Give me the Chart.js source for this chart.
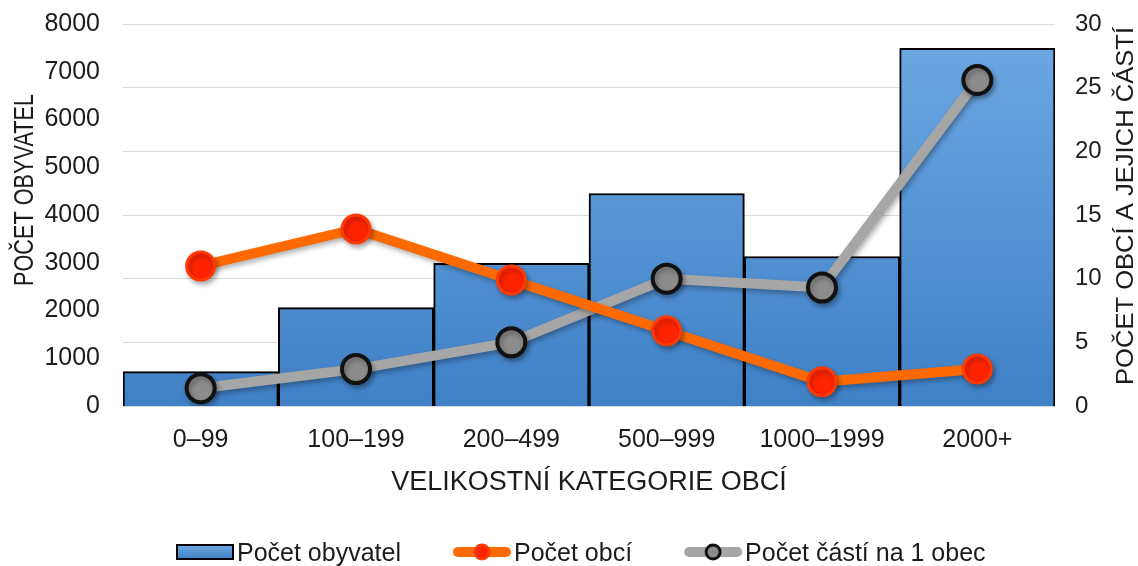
<!DOCTYPE html>
<html>
<head>
<meta charset="utf-8">
<script src="https://cdn.jsdelivr.net/npm/chart.js@4/dist/chart.umd.min.js"></script>
<style>
html,body{margin:0;padding:0;background:#fff;}
#wrap{width:1138px;height:566px;position:relative;}
</style>
</head>
<body>
<div id="wrap"><canvas id="c"></canvas></div>
<script>
const categories = ['0–99', '100–199', '200–499', '500–999', '1000–1999', '2000+'];
const pocetObyvatel = [720, 2060, 2990, 4450, 3130, 7490];
const pocetObci = [11, 13.9, 9.9, 5.9, 1.9, 2.9];
const pocetCasti = [1.4, 2.9, 5.0, 10.0, 9.3, 25.6];
const leftTicks = [0, 1000, 2000, 3000, 4000, 5000, 6000, 7000, 8000];
const rightTicks = [0, 5, 10, 15, 20, 25, 30];
const seriesNames = ['Počet obyvatel', 'Počet obcí', 'Počet částí na 1 obec'];
const xTitle = 'VELIKOSTNÍ KATEGORIE OBCÍ';
const yTitle = 'POČET OBYVATEL';
const y1Title = 'POČET OBCÍ A JEJICH ČÁSTÍ';

const FONT = '"Liberation Sans", Arial, sans-serif';
const TXT = '#1c1c1c';

function barGradient(ctx, top, bottom) {
  const g = ctx.createLinearGradient(0, top, 0, bottom);
  g.addColorStop(0, '#6ea9e3');
  g.addColorStop(1, '#3f80c6');
  return g;
}

const shadowPlugin = {
  id: 'shadow',
  beforeDatasetDraw(chart, args) {
    const ctx = chart.ctx;
    ctx.save();
    ctx.shadowColor = 'rgba(0,0,0,0.30)';
    ctx.shadowBlur = 5;
    ctx.shadowOffsetX = 2;
    ctx.shadowOffsetY = 3;
  },
  afterDatasetDraw(chart) {
    chart.ctx.restore();
  }
};

const decorPlugin = {
  id: 'decor',
  afterDraw(chart) {
    const ctx = chart.ctx;
    const ca = chart.chartArea;
    ctx.save();
    ctx.fillStyle = TXT;
    ctx.textBaseline = 'alphabetic';
    ctx.textAlign = 'center';
    // x title
    ctx.font = '27px ' + FONT;
    ctx.fillText(xTitle, (ca.left + ca.right) / 2, 490);
    // left title
    ctx.save();
    ctx.font = '27px ' + FONT;
    let w = ctx.measureText(yTitle).width;
    ctx.translate(33, 190);
    ctx.rotate(-Math.PI / 2);
    ctx.scale(192 / w, 1);
    ctx.fillText(yTitle, 0, 0);
    ctx.restore();
    // right title
    ctx.save();
    ctx.font = '24px ' + FONT;
    w = ctx.measureText(y1Title).width;
    ctx.translate(1133, 206);
    ctx.rotate(-Math.PI / 2);
    ctx.scale(358 / w, 1);
    ctx.fillText(y1Title, 0, 0);
    ctx.restore();

    // legend
    ctx.font = '25px ' + FONT;
    ctx.textAlign = 'left';
    const cy = 552;
    const mw = 56, gap = 4, G = 53;
    let x = 177;
    chart.data.datasets.forEach((ds, i) => {
      if (i === 0) {
        ctx.fillStyle = barGradient(ctx, cy - 7, cy + 7);
        ctx.fillRect(x, cy - 7, mw, 14);
        ctx.lineWidth = 2;
        ctx.strokeStyle = '#000';
        ctx.strokeRect(x, cy - 7, mw, 14);
      } else {
        ctx.beginPath();
        ctx.lineWidth = 10;
        ctx.lineCap = 'round';
        ctx.strokeStyle = ds.borderColor;
        ctx.moveTo(x + 4, cy);
        ctx.lineTo(x + mw - 4, cy);
        ctx.stroke();
        ctx.beginPath();
        ctx.arc(x + mw / 2, cy, 7, 0, Math.PI * 2);
        ctx.fillStyle = ds.pointBackgroundColor;
        ctx.fill();
        ctx.lineWidth = 3;
        ctx.strokeStyle = ds.pointBorderColor;
        ctx.stroke();
      }
      ctx.fillStyle = TXT;
      const tx = x + mw + gap;
      ctx.fillText(ds.label, tx, cy + 9);
      x = tx + ctx.measureText(ds.label).width + G;
    });
    ctx.restore();
  }
};

new Chart(document.getElementById('c'), {
  data: {
    labels: categories,
    datasets: [
      {
        type: 'bar',
        label: seriesNames[0],
        data: pocetObyvatel,
        yAxisID: 'y',
        order: 3,
        backgroundColor: (c) => {
          const ca = c.chart.chartArea;
          if (!ca) return '#5b9bd5';
          return barGradient(c.chart.ctx, ca.top, ca.bottom);
        },
        borderColor: '#000',
        borderWidth: 2,
        barPercentage: 1,
        categoryPercentage: 1
      },
      {
        type: 'line',
        label: seriesNames[1],
        data: pocetObci,
        yAxisID: 'y1',
        order: 1,
        borderColor: '#ff6a00',
        borderWidth: 10,
        borderJoinStyle: 'round',
        borderCapStyle: 'round',
        pointRadius: 14,
        pointBorderWidth: 3,
        pointBackgroundColor: '#ff2400',
        pointBorderColor: '#ff3a00',
        tension: 0
      },
      {
        type: 'line',
        label: seriesNames[2],
        data: pocetCasti,
        yAxisID: 'y1',
        order: 2,
        borderColor: '#a6a6a6',
        borderWidth: 10,
        borderJoinStyle: 'round',
        borderCapStyle: 'round',
        pointRadius: 14,
        pointBorderWidth: 4,
        pointBackgroundColor: '#8c8c8c',
        pointBorderColor: '#111',
        tension: 0
      }
    ]
  },
  options: {
    responsive: true,
    maintainAspectRatio: false,
    animation: false,
    layout: { padding: { top: 24, left: 0, right: 0, bottom: 0 } },
    plugins: { legend: { display: false }, tooltip: { enabled: false } },
    scales: {
      x: {
        grid: { display: false, drawTicks: false },
        border: { display: false },
        ticks: { color: TXT, font: { family: FONT, size: 25 }, padding: 19, maxRotation: 0 },
        afterFit: (s) => { s.height = 160; s.paddingLeft = 0; s.paddingRight = 0; }
      },
      y: {
        position: 'left',
        min: 0, max: 8000,
        afterBuildTicks: (s) => { s.ticks = leftTicks.map(v => ({ value: v })); },
        grid: { display: false, drawTicks: false },
        border: { display: false },
        ticks: { color: TXT, font: { family: FONT, size: 25 }, padding: 23, callback: (v) => String(v) },
        afterFit: (s) => { s.width = 123; s.paddingTop = 0; s.paddingBottom = 0; }
      },
      y1: {
        position: 'right',
        min: 0, max: 30,
        afterBuildTicks: (s) => { s.ticks = rightTicks.map(v => ({ value: v })); },
        grid: { display: true, color: '#d9d9d9', lineWidth: 1, drawTicks: false },
        border: { display: false },
        ticks: { color: TXT, font: { family: FONT, size: 24 }, padding: 20, callback: (v) => String(v) },
        afterFit: (s) => { s.width = 83; s.paddingTop = 0; s.paddingBottom = 0; }
      }
    }
  },
  plugins: [shadowPlugin, decorPlugin]
});
</script>
</body>
</html>
